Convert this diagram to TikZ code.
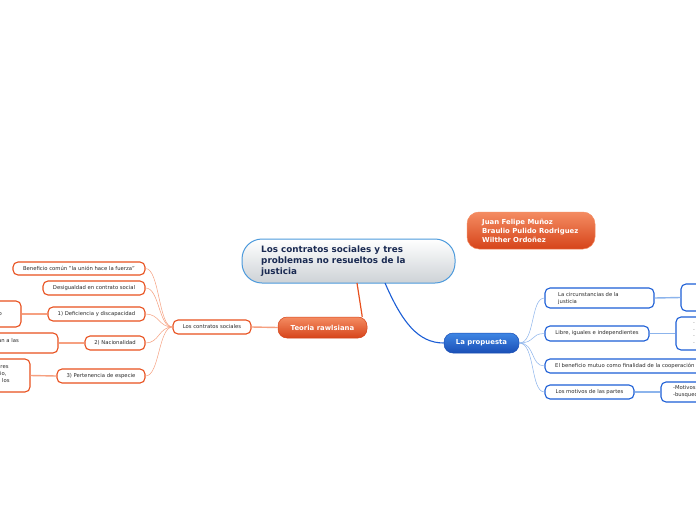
\documentclass[tikz,border=0pt]{standalone}
\usepackage{fontspec}
\setmainfont{DejaVu Sans}
\definecolor{orangeB}{HTML}{E8501E}
\definecolor{orangeL}{HTML}{F6A080}
\definecolor{blueB}{HTML}{1C5ED6}
\definecolor{blueL}{HTML}{8CB4EC}
\definecolor{textG}{HTML}{2A2A2A}
\definecolor{navy}{HTML}{1A2A52}
\definecolor{blueCentral}{HTML}{4C9ADC}
\definecolor{greyB}{HTML}{CDD2D6}
\definecolor{orangeT}{HTML}{F48C62}
\definecolor{orangeD}{HTML}{D6441A}
\definecolor{blueT}{HTML}{3F86E4}
\definecolor{blueD}{HTML}{1A4FB6}
\begin{document}
\begin{tikzpicture}[x=1pt,y=-1pt,
  obox/.style={draw=orangeB, line width=1.1pt, fill=white, rounded corners=5pt, inner sep=0pt, font=\fontsize{5.3}{6.5}\selectfont, text=textG},
  bbox/.style={draw=blueB, line width=1.1pt, fill=white, rounded corners=5pt, inner sep=0pt, font=\fontsize{5.3}{6.5}\selectfont, text=textG},
  oline/.style={draw=orangeL, line width=0.5pt},
  oline2/.style={draw=orangeL, line width=1.4pt},
  bline/.style={draw=blueL, line width=0.5pt},
  bline2/.style={draw=blueL, line width=1.4pt},
  frag/.style={inner sep=0pt, font=\fontsize{5.3}{6.5}\selectfont, text=textG, align=left}
]
\useasboundingbox (0,0) rectangle (696,520);
\fill[white] (0,0) rectangle (696,520);

% main topics
\node[draw=blueCentral, line width=1pt, rounded corners=20pt, top color=white, bottom color=greyB,
  minimum width=213pt, minimum height=44pt, inner sep=0pt] (central) at (348.5,261) {};
\node[anchor=west, inner sep=0pt, align=left, font=\bfseries\fontsize{8.8}{11}\selectfont, text=navy] (ctext) at (261,261)
  {Los contratos sociales y tres\\problemas no resueltos de la\\justicia};

\node[rounded corners=12pt, top color=orangeT, bottom color=orangeD, draw=orangeT, line width=0.5pt,
  minimum width=128pt, minimum height=37pt, inner sep=0pt] (authors) at (531,230.5) {};
\node[anchor=west, inner sep=0pt, align=left, font=\bfseries\fontsize{6.9}{9}\selectfont, text=white] (atext) at (482,231)
  {Juan Felipe Muñoz\\Braulio Pulido Rodriguez\\Wilther Ordoñez};

\node[rounded corners=9pt, top color=orangeT, bottom color=orangeD, draw=orangeD, line width=0.5pt,
  minimum width=89pt, minimum height=21pt, inner sep=0pt, text=white, font=\bfseries\fontsize{6.9}{8}\selectfont]
  (teoria) at (322.5,327.5) {Teoria rawlsiana};

\node[rounded corners=9pt, top color=blueT, bottom color=blueD, draw=blueD, line width=0.5pt,
  minimum width=75pt, minimum height=20pt, inner sep=0pt, text=white, font=\bfseries\fontsize{6.9}{8}\selectfont]
  (prop) at (481.5,343) {La propuesta};

\coordinate (cbl) at (357,283);
\coordinate (cbr) at (385,283);
\draw[draw=orangeB, line width=1.2pt] (cbl) -- ([xshift=-5pt]teoria.north east);
\draw[draw=blueB, line width=1.1pt] (cbr) .. controls (402,322) and (418,343) .. (prop.west);

% left branch
\node[obox, minimum width=78pt, minimum height=14pt] (lcs) at (212,327) {Los contratos sociales};
\draw[oline2] (teoria.west) -- (lcs.east);

\node[obox, minimum width=132pt, minimum height=13pt] (b1) at (79,268.5) {Beneficio común "la unión hace la fuerza"};
\node[obox, minimum width=102pt, minimum height=14pt] (b2) at (94,288) {Desigualdad en contrato social};
\node[obox, minimum width=97pt, minimum height=14pt] (b3) at (96.5,314) {1) Deficiencia y discapacidad};
\node[obox, minimum width=60pt, minimum height=14pt] (b4) at (115,343) {2) Nacionalidad};
\node[obox, minimum width=88pt, minimum height=14pt] (b5) at (101,376) {3) Pertenencia de especie};

\foreach \b in {b1,b2,b3,b4,b5}{
  \draw[oline] (lcs.west) .. controls +(-14,0) and +(14,0) .. (\b.east);
}

\node[obox, minimum width=82pt, minimum height=26pt] (p1) at (-20,314) {};
\node[obox, minimum width=138pt, minimum height=20pt] (p2) at (-11,343) {};
\node[obox, minimum width=90pt, minimum height=33pt] (p3) at (-15,375.5) {};
\node[frag, anchor=west] (p1t) at (-1.5,314) {o};
\node[frag, anchor=west] (p2t) at (-2,341) {an a las};
\node[frag, anchor=west, font=\fontsize{5.3}{7}\selectfont] (p3t) at (-3,374) {eres\\cio,\\a los};
\draw[oline2] (p1.east) -- (b3.west);
\draw[oline2] (p2.east) -- (b4.west);
\draw[oline2] (p3.east) -- (b5.west);

% right branch
\node[bbox, minimum width=109pt, minimum height=20pt] (r1) at (599.5,298) {};
\node[frag, anchor=west] (r1t) at (558,298.5) {La circunstancias de la\\justicia};
\node[bbox, minimum width=104pt, minimum height=15pt] (r2) at (597,333.5) {Libre, iguales e independientes};
\node[bbox, minimum width=230pt, minimum height=14pt] (r3) at (660,366) {};
\node[frag, anchor=west] (r3t) at (555,366) {El beneficio mutuo como finalidad de la cooperación};
\node[bbox, minimum width=89pt, minimum height=14pt] (r4) at (589.5,392) {Los motivos de las partes};

\foreach \r in {r1,r2,r3,r4}{
  \draw[bline] (prop.east) .. controls +(16,0) and +(-14,0) .. (\r.west);
}

\node[bbox, minimum width=80pt, minimum height=27pt] (q1) at (721,297.5) {};
\node[bbox, minimum width=84pt, minimum height=33pt] (q2) at (718,333.5) {};
\node[bbox, minimum width=98pt, minimum height=20pt] (q3) at (710,392) {};
\node[frag, anchor=west, text=gray, font=\fontsize{5}{6.5}\selectfont] (q2t) at (693,333.5) {-\\-\\-\\-};
\node[frag, anchor=west, font=\fontsize{5.3}{7}\selectfont] (q3t) at (673,392) {-Motivos\\-busqueda};
\draw[bline2] (r1.east) -- (q1.west);
\draw[bline2] (r2.east) -- (q2.west);
\draw[bline2] (r4.east) -- (q3.west);
\end{tikzpicture}
\end{document}
